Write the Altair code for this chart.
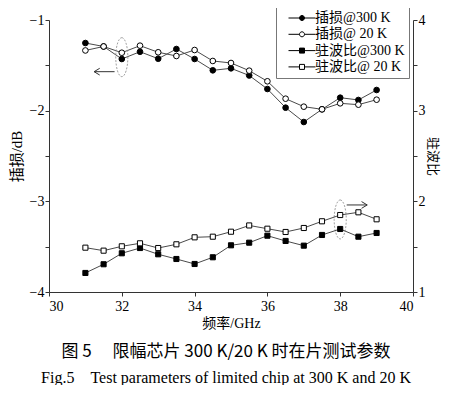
import altair as alt
import pandas as pd

# ---------------- data ----------------
freq = [31.0, 31.5, 32.0, 32.5, 33.0, 33.5, 34.0, 34.5, 35.0, 35.5,
        36.0, 36.5, 37.0, 37.5, 38.0, 38.5, 39.0]
il_300 = [-1.254, -1.292, -1.430, -1.350, -1.427, -1.320, -1.430, -1.555, -1.533,
          -1.612, -1.761, -1.967, -2.125, -1.985, -1.857, -1.882, -1.772]
il_20 = [-1.336, -1.292, -1.361, -1.283, -1.356, -1.397, -1.331, -1.452, -1.474,
         -1.559, -1.676, -1.868, -1.956, -1.985, -1.919, -1.934, -1.879]
vswr_300 = [1.210, 1.306, 1.427, 1.485, 1.416, 1.364, 1.309, 1.383, 1.515,
            1.544, 1.621, 1.563, 1.511, 1.629, 1.695, 1.610, 1.651]
vswr_20 = [1.489, 1.456, 1.504, 1.537, 1.485, 1.526, 1.603, 1.610, 1.665,
           1.734, 1.698, 1.662, 1.706, 1.780, 1.849, 1.879, 1.802]
series_names = ["插损@300 K", "插损@ 20 K", "驻波比@300 K", "驻波比@ 20 K"]

# annotation anchors (in left-axis units)
ellipse_f = [32.0, 38.0]
ellipse_v = [-1.41, -3.20]
arrow_left_f = [31.52]
arrow_left_v = [-1.57]
arrow_right_f = [38.46]
arrow_right_v = [-3.04]

FONT = "Liberation Serif, Noto Sans CJK SC"
CJK = "Noto Sans CJK SC"

n = len(freq)
df_il = pd.DataFrame({"f": freq * 2, "v": il_300 + il_20,
                      "s": [series_names[0]] * n + [series_names[1]] * n})
df_vs = pd.DataFrame({"f": freq * 2, "v": vswr_300 + vswr_20,
                      "s": [series_names[2]] * n + [series_names[3]] * n})
df_legend = pd.DataFrame({"s": series_names})
df_ell = pd.DataFrame({"f": ellipse_f, "v": ellipse_v})
df_al = pd.DataFrame({"f": arrow_left_f, "v": arrow_left_v})
df_ar = pd.DataFrame({"f": arrow_right_f, "v": arrow_right_v})

x_enc = alt.X("f:Q", scale=alt.Scale(domain=[30, 40], nice=False, zero=False),
              axis=alt.Axis(values=list(range(30, 41)),
                            labelExpr="datum.value % 2 == 0 ? datum.label : ''",
                            title="频率/GHz", format="d", orient="bottom",
                            tickSize=4, labelPadding=3, titlePadding=3))

yl_enc = alt.Y("v:Q", scale=alt.Scale(domain=[-4, -1], nice=False, zero=False),
               axis=alt.Axis(values=[-4, -3.5, -3, -2.5, -2, -1.5, -1],
                             labelExpr="datum.value % 1 == 0 ? datum.label : ''",
                             format=".0f", title="插损/dB", orient="left",
                             tickSize=4, labelPadding=1, titlePadding=5,
                             titleFontSize=15))
yr_enc = alt.Y("v:Q", scale=alt.Scale(domain=[1, 4], nice=False, zero=False),
               axis=alt.Axis(values=[1, 1.5, 2, 2.5, 3, 3.5, 4],
                             labelExpr="datum.value % 1 == 0 ? datum.label : ''",
                             format=".0f", title="驻波比", orient="right",
                             titleAngle=90, tickSize=4, labelPadding=1,
                             titlePadding=0, titleFontSize=13))

LINE = "#4a4a4a"

# ---------- left (insertion loss) ----------
il_lines = alt.Chart(df_il).mark_line(color=LINE, strokeWidth=1).encode(
    x=x_enc, y=yl_enc, detail="s:N")
il300_pts = alt.Chart(df_il).transform_filter(
    alt.datum.s == series_names[0]).mark_point(
    shape="circle", filled=True, fill="black", stroke="black", strokeWidth=1,
    size=32, opacity=1).encode(x="f:Q", y="v:Q")
il20_pts = alt.Chart(df_il).transform_filter(
    alt.datum.s == series_names[1]).mark_point(
    shape="circle", filled=True, fill="white", stroke="black", strokeWidth=1,
    size=32, opacity=1).encode(x="f:Q", y="v:Q")

ellipse_path = "M0,-1A0.31,1 0 1,1 0,1A0.31,1 0 1,1 0,-1Z"
ellipses = alt.Chart(df_ell).mark_point(
    shape=ellipse_path, size=1521, filled=False, stroke="#888888",
    strokeWidth=0.8, strokeDash=[2, 1.5], opacity=1).encode(x="f:Q", y="v:Q")
arrow_l = alt.Chart(df_al).mark_point(
    shape="M-1,0L1,0M-1,0L-0.45,-0.33M-1,0L-0.45,0.33", size=420,
    filled=False, stroke="#333333", strokeWidth=1, opacity=1).encode(
    x="f:Q", y="v:Q")
arrow_r = alt.Chart(df_ar).mark_point(
    shape="M-1,0L1,0M1,0L0.45,-0.33M1,0L0.45,0.33", size=420,
    filled=False, stroke="#333333", strokeWidth=1, opacity=1).encode(
    x="f:Q", y="v:Q")

left = alt.layer(il_lines, il300_pts, il20_pts, ellipses, arrow_l, arrow_r)

# ---------- right (VSWR) ----------
vs_lines = alt.Chart(df_vs).mark_line(color=LINE, strokeWidth=1).encode(
    x="f:Q", y=yr_enc, detail="s:N")
vs300_pts = alt.Chart(df_vs).transform_filter(
    alt.datum.s == series_names[2]).mark_point(
    shape="square", filled=True, fill="black", stroke="black", strokeWidth=1,
    size=26, opacity=1).encode(x="f:Q", y="v:Q")
vs20_pts = alt.Chart(df_vs).transform_filter(
    alt.datum.s == series_names[3]).mark_point(
    shape="square", filled=True, fill="white", stroke="black", strokeWidth=1,
    size=26, opacity=1).encode(x="f:Q", y="v:Q")

right = alt.layer(vs_lines, vs300_pts, vs20_pts)

# ---------- legend ----------
circ = "M-5.4,0L-1,0M1,0L5.4,0M-1,0A1,1 0 1,1 1,0A1,1 0 1,1 -1,0Z"
sq = "M-5.4,0L-1,0M1,0L5.4,0M-1,-1L1,-1L1,1L-1,1Z"
leg = alt.Legend(title=None, orient="none", legendX=227, legendY=-13,
                 symbolSize=25, symbolOffset=15, labelOffset=6,
                 labelFont=FONT, labelFontSize=14, labelColor="black",
                 padding=4, rowPadding=2.3, strokeColor="#777777",
                 fillColor="white", symbolStrokeWidth=1)
legend_layer = alt.Chart(df_legend).transform_filter("false").mark_point(
    filled=True, strokeWidth=1, opacity=1, size=25).encode(
    shape=alt.Shape("s:N", scale=alt.Scale(domain=series_names,
                                           range=[circ, circ, sq, sq]),
                    legend=leg),
    fill=alt.Fill("s:N", scale=alt.Scale(domain=series_names,
                                         range=["black", "white", "black", "white"]),
                  legend=leg),
    stroke=alt.Stroke("s:N", scale=alt.Scale(domain=series_names,
                                             range=["black", "black", "black", "black"]),
                      legend=leg))

chart = alt.layer(left, right, legend_layer).resolve_scale(
    y="independent"
).properties(
    width=364, height=272,
    padding={"left": 41, "top": 12, "right": 28, "bottom": 93},
    autosize=alt.AutoSizeParams(type="none"),
    title=alt.TitleParams(
        text="图 5　 限幅芯片 300 K/20 K 时在片测试参数",
        subtitle="Fig.5　Test parameters of limited chip at 300 K and 20 K",
        orient="bottom", anchor="middle", font=CJK, fontSize=17,
        fontWeight="normal", color="black", subtitleFont="Liberation Serif",
        subtitleFontSize=16, subtitleColor="black", subtitlePadding=9,
        offset=14, dx=-5),
).configure_view(stroke=None).configure_axis(
    labelFont=FONT, labelFontSize=14, labelColor="black",
    titleFont=FONT, titleFontSize=14, titleFontWeight="normal",
    titleColor="black", domainColor="#333333", tickColor="#333333",
    grid=False,
)

chart.save("out.html", embed_options={"renderer": "svg", "actions": False})
